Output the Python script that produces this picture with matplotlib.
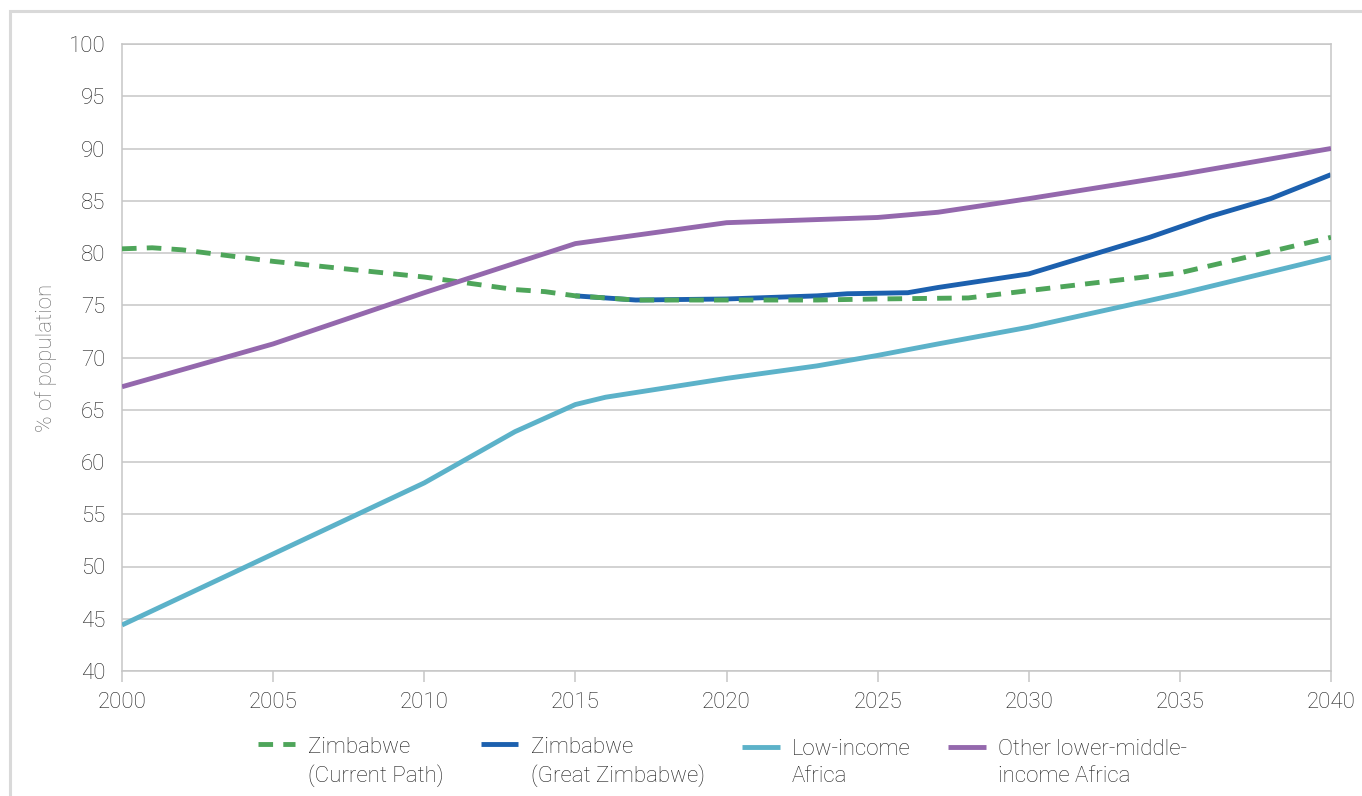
import matplotlib
matplotlib.use("Agg")
import matplotlib.pyplot as plt
from matplotlib.patches import Rectangle

# ---------------- data ----------------
years_cp = [2000, 2001, 2002, 2005, 2010, 2013, 2014, 2015, 2017, 2020, 2023, 2025, 2028, 2030, 2035, 2040]
zim_current_path = [80.4, 80.5, 80.3, 79.2, 77.7, 76.5, 76.3, 75.9, 75.5, 75.5, 75.5, 75.6, 75.7, 76.4, 78.1, 81.5]

years_gz = [2015, 2017, 2020, 2023, 2024, 2026, 2027, 2030, 2034, 2036, 2038, 2040]
zim_great_zimbabwe = [75.9, 75.5, 75.6, 75.9, 76.1, 76.2, 76.7, 78.0, 81.5, 83.5, 85.2, 87.5]

years_li = [2000, 2005, 2010, 2013, 2015, 2016, 2020, 2023, 2025, 2027, 2030, 2035, 2040]
low_income_africa = [44.4, 51.2, 58.0, 62.9, 65.5, 66.2, 68.0, 69.2, 70.2, 71.3, 72.9, 76.1, 79.6]

years_lmi = [2000, 2005, 2010, 2015, 2020, 2025, 2027, 2030, 2035, 2040]
other_lmi_africa = [67.2, 71.3, 76.2, 80.9, 82.9, 83.4, 83.9, 85.2, 87.5, 90.0]

labels = ["Zimbabwe\n(Current Path)", "Zimbabwe\n(Great Zimbabwe)",
          "Low-income\nAfrica", "Other lower-middle-\nincome Africa"]
x_ticks = list(range(2000, 2041, 5))
y_ticks = list(range(40, 101, 5))
y_label = "% of population"

# ---------------- style ----------------
plt.rcParams["font.family"] = ["Roboto", "DejaVu Sans"]
plt.rcParams["font.weight"] = "light"

c_green = "#4ea55a"
c_blue = "#1c60ae"
c_light = "#5cb2c9"
c_purple = "#9468ad"
grid_c = "#c6c6c6"
text_c = "#1e1e1e"
FS = 16

W, H = 1362, 796
fig = plt.figure(figsize=(W / 100, H / 100), dpi=100)
fig.patch.set_facecolor("white")

ax = fig.add_axes([122 / W, 1 - 671 / H, (1331 - 122) / W, (671 - 44) / H])

lw = 3.5
l_blue, = ax.plot(years_gz, zim_great_zimbabwe, color=c_blue, lw=lw, zorder=2,
                  solid_capstyle="butt", solid_joinstyle="round")
l_green, = ax.plot(years_cp, zim_current_path, color=c_green, lw=lw, zorder=3,
                   linestyle=(0, (3, 2.1)), dash_capstyle="butt", dash_joinstyle="round")
l_light, = ax.plot(years_li, low_income_africa, color=c_light, lw=lw, zorder=3,
                   solid_capstyle="butt", solid_joinstyle="round")
l_purple, = ax.plot(years_lmi, other_lmi_africa, color=c_purple, lw=lw, zorder=4,
                    solid_capstyle="butt", solid_joinstyle="round")

ax.set_xlim(2000, 2040)
ax.set_ylim(40, 100)
ax.set_xticks(x_ticks)
ax.set_yticks(y_ticks)
ax.set_xticklabels([str(t) for t in x_ticks])
ax.set_yticklabels([str(t) for t in y_ticks])

ax.yaxis.grid(True, color=grid_c, lw=1.1)
ax.xaxis.grid(False)
ax.set_axisbelow(True)

for s in ["left", "bottom", "right", "top"]:
    ax.spines[s].set_color(grid_c)
    ax.spines[s].set_linewidth(1.1)

ax.tick_params(axis="y", length=0, pad=12, labelsize=FS, labelcolor=text_c)
ax.tick_params(axis="x", length=8, width=1.1, color=grid_c, pad=7,
               labelsize=FS, labelcolor=text_c)

fig.text(46 / W, 1 - 358 / H, y_label, rotation=90, ha="center", va="center",
         fontsize=FS, color="#6a6a6a")

# legend
leg = fig.legend([l_green, l_blue, l_light, l_purple], labels,
                 loc="upper left", bbox_to_anchor=(258 / W, 1 - 737 / H),
                 ncol=4, frameon=False, borderpad=0, borderaxespad=0,
                 handlelength=1.68, handleheight=0.6, handletextpad=0.55,
                 columnspacing=1.7, fontsize=FS, labelcolor=text_c)
for t in leg.get_texts():
    t.set_linespacing(1.37)
try:
    for vp in leg._legend_handle_box.get_children():
        for hp in vp.get_children():
            hp.align = "top"
except Exception:
    pass

# outer frame
fig.add_artist(Rectangle((10 / W, -0.5), 2.0, (1 - 11 / H) + 0.5,
                         transform=fig.transFigure, fill=False,
                         ec="#d9d9d9", lw=2.2))

fig.savefig("out.png", dpi=100, facecolor="white")
